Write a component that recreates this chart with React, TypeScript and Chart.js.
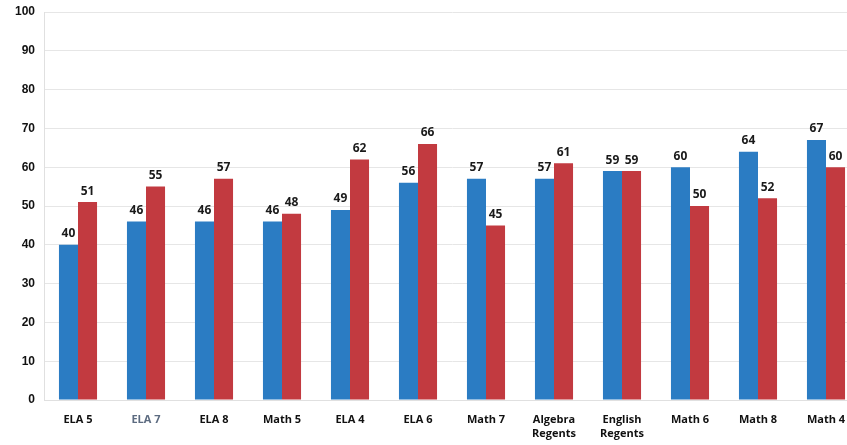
import React, { useEffect, useRef } from "react";
import { Chart, registerables } from "chart.js";

Chart.register(...registerables);

const categories: (string | string[])[] = [
  "ELA 5", "ELA 7", "ELA 8", "Math 5", "ELA 4", "ELA 6", "Math 7",
  ["Algebra", "Regents"], ["English", "Regents"], "Math 6", "Math 8", "Math 4",
];
const blueValues = [40, 46, 46, 46, 49, 56, 57, 57, 59, 60, 64, 67];
const redValues = [51, 55, 57, 48, 62, 66, 45, 61, 59, 50, 52, 60];
const yTicks = [0, 10, 20, 30, 40, 50, 60, 70, 80, 90, 100];

const labelPlugin = {
  id: "valueLabels",
  afterDatasetsDraw(chart: any) {
    const ctx = chart.ctx;
    ctx.save();
    ctx.font = "bold 12px 'Open Sans', sans-serif";
    ctx.fillStyle = "#1a1a1a";
    ctx.textAlign = "center";
    ctx.textBaseline = "bottom";
    chart.data.datasets.forEach((ds: any, di: number) => {
      const meta = chart.getDatasetMeta(di);
      meta.data.forEach((bar: any, i: number) => {
        ctx.fillText(String(ds.data[i]), bar.x, bar.y - 5);
      });
    });
    ctx.restore();
  },
};

export default function App() {
  const ref = useRef<HTMLCanvasElement>(null);
  useEffect(() => {
    document.body.style.margin = "0";
    document.body.style.overflow = "hidden";
    const chart = new Chart(ref.current!, {
      type: "bar",
      data: {
        labels: categories,
        datasets: [
          { data: blueValues, backgroundColor: "#2b7cc3", categoryPercentage: 0.56, barPercentage: 1 },
          { data: redValues, backgroundColor: "#c23a40", categoryPercentage: 0.56, barPercentage: 1 },
        ],
      },
      options: {
        responsive: false,
        animation: false,
        layout: { padding: { top: 12, right: 0, left: 0, bottom: 0 } },
        plugins: { legend: { display: false }, tooltip: { enabled: false } },
        scales: {
          y: {
            min: 0,
            max: 100,
            afterBuildTicks: (s: any) => { s.ticks = yTicks.map((v) => ({ value: v })); },
            afterFit: (s: any) => { s.width = 44; s.paddingTop = 0; s.paddingBottom = 0; },
            grid: { color: "#e6e6e6", drawTicks: false },
            border: { color: "#e0e0e0" },
            ticks: {
              padding: 9,
              color: "#111",
              font: { family: "'Liberation Sans', sans-serif", size: 12, weight: "bold" },
            },
          },
          x: {
            afterFit: (s: any) => { s.height = 45; },
            grid: { display: false },
            border: { color: "#e0e0e0" },
            ticks: {
              padding: 4,
              maxRotation: 0,
              autoSkip: false,
              color: (c: any) => (c.index === 1 ? "#5c6b80" : "#111"),
              font: { family: "'Open Sans', sans-serif", size: 11, weight: "bold", lineHeight: 1.35 },
            },
          },
        },
      },
      plugins: [labelPlugin],
    });
    return () => chart.destroy();
  }, []);
  return (
    <div style={{ width: 860, height: 445 }}>
      <canvas ref={ref} width={860} height={445} />
    </div>
  );
}
